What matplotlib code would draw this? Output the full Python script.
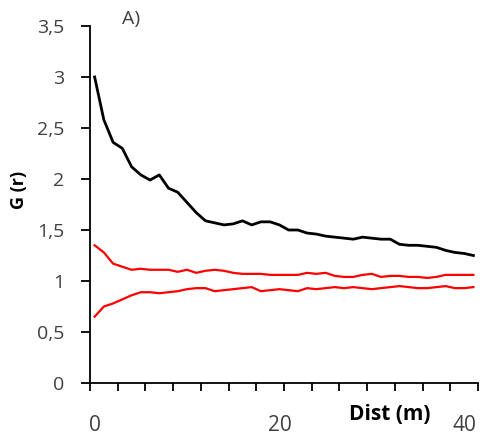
import numpy as np
import matplotlib
matplotlib.use('Agg')
import matplotlib.pyplot as plt

plt.rcParams['font.family'] = ['Open Sans', 'DejaVu Sans']

# G(r) observado y envolventes (una posición por categoría de distancia)
dist = np.arange(42)
g_obs = [3.00, 2.58, 2.36, 2.30, 2.12, 2.04, 1.99, 2.04, 1.91, 1.87,
         1.77, 1.67, 1.59, 1.57, 1.55, 1.56, 1.59, 1.55, 1.58, 1.58,
         1.55, 1.50, 1.50, 1.47, 1.46, 1.44, 1.43, 1.42, 1.41, 1.43,
         1.42, 1.41, 1.41, 1.36, 1.35, 1.35, 1.34, 1.33, 1.30, 1.28,
         1.27, 1.25]
env_sup = [1.35, 1.28, 1.17, 1.14, 1.11, 1.12, 1.11, 1.11, 1.11, 1.09,
           1.11, 1.08, 1.10, 1.11, 1.10, 1.08, 1.07, 1.07, 1.07, 1.06,
           1.06, 1.06, 1.06, 1.08, 1.07, 1.08, 1.05, 1.04, 1.04, 1.06,
           1.07, 1.04, 1.05, 1.05, 1.04, 1.04, 1.03, 1.04, 1.06, 1.06,
           1.06, 1.06]
env_inf = [0.65, 0.75, 0.78, 0.82, 0.86, 0.89, 0.89, 0.88, 0.89, 0.90,
           0.92, 0.93, 0.93, 0.90, 0.91, 0.92, 0.93, 0.94, 0.90, 0.91,
           0.92, 0.91, 0.90, 0.93, 0.92, 0.93, 0.94, 0.93, 0.94, 0.93,
           0.92, 0.93, 0.94, 0.95, 0.94, 0.93, 0.93, 0.94, 0.95, 0.93,
           0.93, 0.94]

y_ticks = [0, 0.5, 1, 1.5, 2, 2.5, 3, 3.5]
y_labels = ['0', '0,5', '1', '1,5', '2', '2,5', '3', '3,5']
x_ticks = [0, 20, 40]
x_labels = ['0', '20', '40']

fig = plt.figure(figsize=(4.8, 4.45), dpi=100)
ax = fig.add_axes([90/480, 62/445, 388/480, 357/445])

ax.plot(dist, g_obs, color='black', lw=2.0)
ax.plot(dist, env_sup, color='#ff0000', lw=1.6)
ax.plot(dist, env_inf, color='#ff0000', lw=1.6)

ax.set_xlim(-0.5, 41.5)
ax.set_ylim(0, 3.5)

ax.spines['top'].set_visible(False)
ax.spines['right'].set_visible(False)
for s in ['left', 'bottom']:
    ax.spines[s].set_linewidth(1.3)
    ax.spines[s].set_color('black')

ax.set_yticks(y_ticks)
ax.set_yticklabels(y_labels)
ax.tick_params(axis='y', length=6.5, width=1.3, pad=12, labelsize=14,
               labelcolor='#404040')

ax.set_xticks(x_ticks)
ax.set_xticklabels(x_labels)
ax.set_xticks(np.arange(-0.5, 42, 3), minor=True)
ax.tick_params(axis='x', which='major', length=0, pad=23, labelsize=15,
               labelcolor='#404040')
ax.tick_params(axis='x', which='minor', length=6, width=1.3)

fig.text(19/480, 1 - 190/445, 'G (r)', rotation=90, fontsize=13,
         fontweight='bold', ha='center', va='center')
fig.text(390/480, 1 - 414/445, 'Dist (m)', fontsize=15, fontweight='bold',
         ha='center', va='center')
fig.text(131/480, 1 - 19/445, 'A)', fontsize=14, color='#404040',
         ha='center', va='center')

fig.savefig('out.png', dpi=100)
